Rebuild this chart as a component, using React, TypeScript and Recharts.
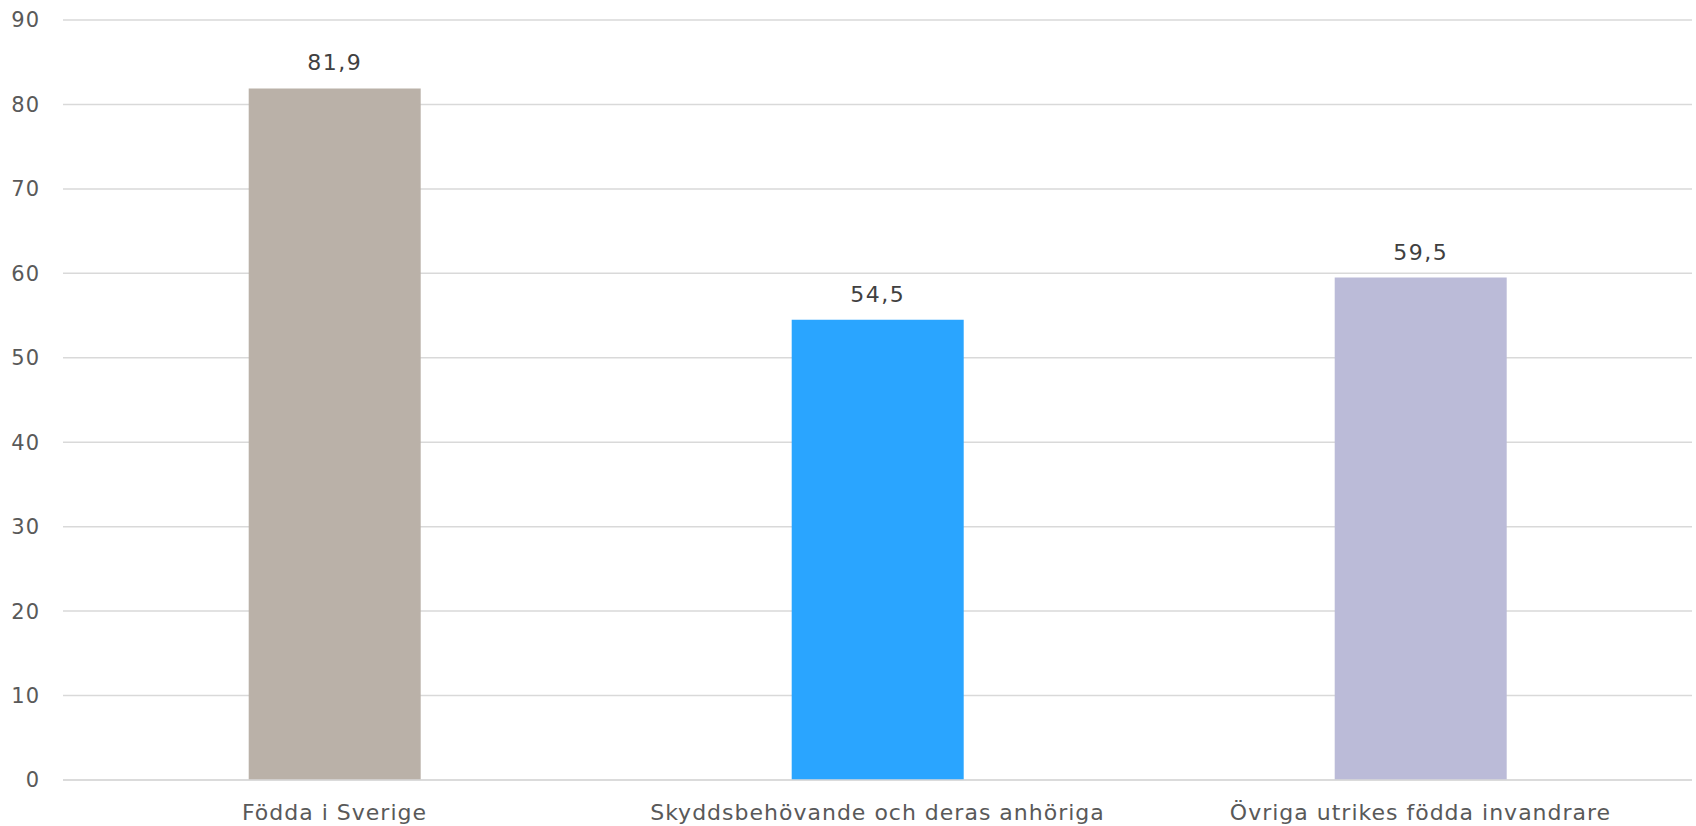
import React from 'react'
import { BarChart, Bar, XAxis, YAxis, CartesianGrid, Cell, LabelList } from 'recharts'

const categories = ['Födda i Sverige', 'Skyddsbehövande och deras anhöriga', 'Övriga utrikes födda invandrare']
const values = [81.9, 54.5, 59.5]
const barColors = ['#bab1a8', '#2aa5ff', '#bbbbd8']
const yTicks = [0, 10, 20, 30, 40, 50, 60, 70, 80, 90]

const data = categories.map((name, i) => ({ name, value: values[i] }))

const font = "'DejaVu Sans', Verdana, sans-serif"
const textColor = '#595959'

export default function App() {
  return (
    <div
      style={{
        position: 'absolute',
        top: 0,
        left: 0,
        width: 1696,
        height: 826,
        overflow: 'hidden',
        background: '#fff',
      }}
    >
      <BarChart
        width={1696}
        height={826}
        data={data}
        margin={{ top: 20, right: 4, bottom: 0, left: 0 }}
        barCategoryGap="34.2%"
      >
        <CartesianGrid vertical={false} stroke="#d9d9d9" strokeWidth={1.5} />
        <XAxis
          dataKey="name"
          height={46}
          tickLine={false}
          axisLine={{ stroke: '#d9d9d9', strokeWidth: 1.5 }}
          tickMargin={18}
          tick={{ fill: textColor, fontSize: 22, fontFamily: font, letterSpacing: 1 }}
          interval={0}
        />
        <YAxis
          width={63}
          domain={[0, 90]}
          ticks={yTicks}
          tickLine={false}
          axisLine={false}
          tickMargin={17}
          tick={{ fill: textColor, fontSize: 21, fontFamily: font, letterSpacing: 1 }}
        />
        <Bar dataKey="value" isAnimationActive={false}>
          {data.map((entry, index) => (
            <Cell key={`cell-${index}`} fill={barColors[index]} />
          ))}
          <LabelList
            dataKey="value"
            position="top"
            offset={18}
            formatter={(v: any) => String(v).replace('.', ',')}
            style={{ fill: '#404040', fontSize: 22, fontFamily: font, letterSpacing: 1.5 }}
          />
        </Bar>
      </BarChart>
    </div>
  )
}
